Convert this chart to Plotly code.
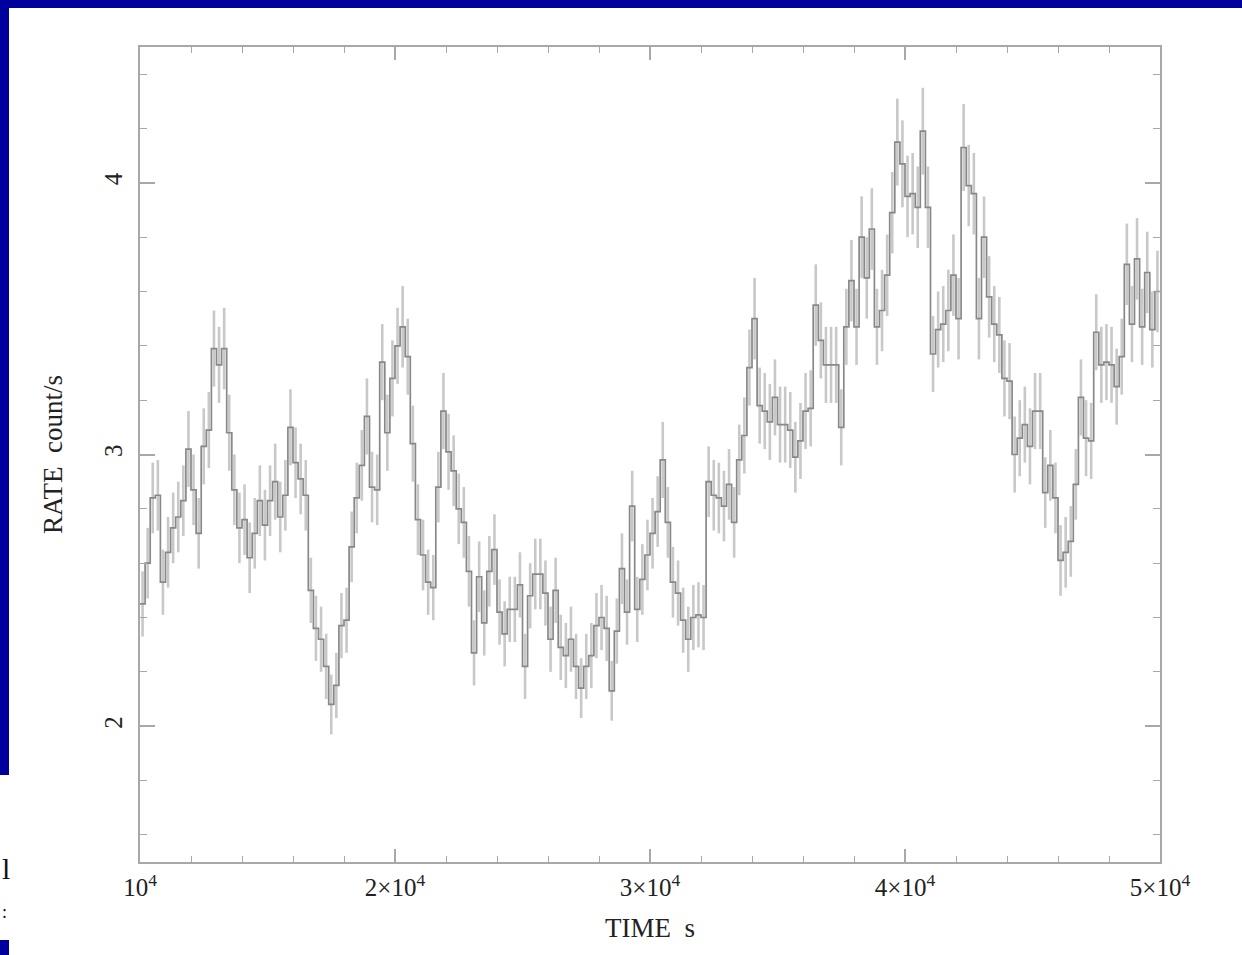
import plotly.graph_objects as go

# ---- data -------------------------------------------------------------
T_START = 10000.0      # s
BIN = 200.0            # s

RATE = [
    2.45, 2.60, 2.84, 2.85, 2.53, 2.64, 2.73, 2.77, 2.83, 3.02,
    2.87, 2.71, 3.03, 3.09, 3.39, 3.33, 3.39, 3.08, 2.87, 2.73,
    2.76, 2.62, 2.71, 2.83, 2.74, 2.83, 2.90, 2.77, 2.85, 3.10,
    2.97, 2.91, 2.85, 2.50, 2.36, 2.32, 2.22, 2.08, 2.15, 2.37,
    2.39, 2.66, 2.84, 2.96, 3.14, 2.88, 2.87, 3.34, 3.08, 3.28,
    3.40, 3.47, 3.36, 3.04, 2.76, 2.63, 2.53, 2.51, 2.88, 3.16,
    3.01, 2.94, 2.80, 2.75, 2.57, 2.27, 2.55, 2.38, 2.57, 2.65,
    2.42, 2.34, 2.43, 2.43, 2.52, 2.22, 2.48, 2.56, 2.56, 2.49,
    2.32, 2.50, 2.29, 2.26, 2.32, 2.22, 2.14, 2.22, 2.26, 2.37,
    2.40, 2.36, 2.13, 2.35, 2.58, 2.42, 2.81, 2.43, 2.54, 2.63,
    2.71, 2.79, 2.98, 2.75, 2.53, 2.49, 2.39, 2.32, 2.40, 2.41,
    2.40, 2.90, 2.85, 2.84, 2.81, 2.89, 2.75, 2.98, 3.07, 3.32,
    3.50, 3.18, 3.16, 3.12, 3.21, 3.11, 3.11, 3.09, 2.99, 3.05,
    3.16, 3.17, 3.55, 3.42, 3.33, 3.33, 3.33, 3.10, 3.47, 3.64,
    3.47, 3.80, 3.65, 3.83, 3.47, 3.53, 3.66, 3.89, 4.15, 4.07,
    3.95, 3.96, 3.91, 4.19, 3.91, 3.37, 3.46, 3.48, 3.53, 3.66,
    3.50, 4.13, 3.99, 3.96, 3.50, 3.80, 3.58, 3.48, 3.44, 3.28,
    3.27, 3.00, 3.06, 3.11, 3.03, 3.16, 3.16, 2.86, 2.96, 2.84,
    2.61, 2.64, 2.68, 2.89, 3.21, 3.06, 3.05, 3.45, 3.33, 3.34,
    3.33, 3.25, 3.36, 3.70, 3.48, 3.72, 3.47, 3.67, 3.46, 3.60,
]

RATE_ERR = [
    0.12, 0.13, 0.13, 0.13, 0.12, 0.13, 0.13, 0.13, 0.13, 0.14,
    0.13, 0.13, 0.14, 0.14, 0.14, 0.14, 0.15, 0.14, 0.13, 0.13,
    0.13, 0.13, 0.13, 0.13, 0.13, 0.13, 0.14, 0.13, 0.13, 0.14,
    0.13, 0.13, 0.13, 0.12, 0.12, 0.12, 0.12, 0.11, 0.12, 0.12,
    0.12, 0.13, 0.13, 0.13, 0.14, 0.13, 0.13, 0.14, 0.14, 0.14,
    0.14, 0.15, 0.14, 0.14, 0.13, 0.13, 0.12, 0.12, 0.13, 0.14,
    0.14, 0.13, 0.13, 0.13, 0.13, 0.12, 0.13, 0.12, 0.13, 0.13,
    0.12, 0.12, 0.12, 0.12, 0.12, 0.12, 0.12, 0.13, 0.13, 0.12,
    0.12, 0.12, 0.12, 0.12, 0.12, 0.12, 0.11, 0.12, 0.12, 0.12,
    0.12, 0.12, 0.11, 0.12, 0.13, 0.12, 0.13, 0.12, 0.13, 0.13,
    0.13, 0.13, 0.14, 0.13, 0.13, 0.12, 0.12, 0.12, 0.12, 0.12,
    0.12, 0.13, 0.13, 0.13, 0.13, 0.13, 0.13, 0.13, 0.14, 0.14,
    0.15, 0.14, 0.14, 0.14, 0.14, 0.14, 0.14, 0.14, 0.13, 0.14,
    0.14, 0.14, 0.15, 0.14, 0.14, 0.14, 0.14, 0.14, 0.14, 0.15,
    0.14, 0.15, 0.15, 0.15, 0.14, 0.15, 0.15, 0.15, 0.16, 0.16,
    0.15, 0.15, 0.15, 0.16, 0.15, 0.14, 0.14, 0.14, 0.15, 0.15,
    0.15, 0.16, 0.15, 0.15, 0.15, 0.15, 0.15, 0.14, 0.14, 0.14,
    0.14, 0.14, 0.14, 0.14, 0.14, 0.14, 0.14, 0.13, 0.13, 0.13,
    0.13, 0.13, 0.13, 0.13, 0.14, 0.14, 0.14, 0.14, 0.14, 0.14,
    0.14, 0.14, 0.14, 0.15, 0.14, 0.15, 0.14, 0.15, 0.14, 0.15,
]

X_TICKVALS = [10000, 20000, 30000, 40000, 50000]
X_TICKTEXT = ["10<sup>4</sup>", "2×10<sup>4</sup>", "3×10<sup>4</sup>",
              "4×10<sup>4</sup>", "5×10<sup>4</sup>"]
Y_TICKVALS = [2, 3, 4]
Y_TICKTEXT = ["2", "3", "4"]

# ---- derived ----------------------------------------------------------
N = len(RATE)
time_c = [T_START + BIN * (i + 0.5) for i in range(N)]
# step outline: extend to bin edges at both ends
step_x = [T_START] + time_c + [T_START + BIN * N]
step_y = [RATE[0]] + RATE + [RATE[-1]]

SERIF = "Liberation Serif, Times New Roman, serif"
AXIS_COL = "#a8a8a8"
TEXT_COL = "#222222"

fig = go.Figure()

fig.add_trace(go.Scatter(
    x=time_c, y=RATE, mode="markers",
    marker=dict(size=1, color="rgba(0,0,0,0)"),
    error_y=dict(type="data", array=RATE_ERR, visible=True,
                 color="#c8c8c8", thickness=2.6, width=0),
    hoverinfo="skip", showlegend=False,
))

fig.add_trace(go.Scatter(
    x=step_x, y=step_y, mode="lines",
    line=dict(shape="hvh", color="#888888", width=1.7),
    showlegend=False,
))

fig.update_layout(
    width=1242, height=955,
    margin=dict(l=140, r=82, t=47, b=93, pad=0),
    paper_bgcolor="white", plot_bgcolor="white",
    showlegend=False,
    font=dict(family=SERIF, color=TEXT_COL, size=24),
)

fig.update_xaxes(
    range=[10000, 50000],
    tickvals=X_TICKVALS, ticktext=X_TICKTEXT,
    ticks="inside", ticklen=13, tickwidth=1.5, tickcolor=AXIS_COL,
    minor=dict(dtick=2000, ticks="inside", ticklen=6, tickwidth=1.2,
               tickcolor=AXIS_COL, showgrid=False),
    showline=True, linecolor=AXIS_COL, linewidth=2, mirror="ticks",
    showgrid=False, zeroline=False,
    tickfont=dict(family=SERIF, size=25, color=TEXT_COL),
    ticklabelstandoff=2,
    title=dict(text="TIME\u00a0\u00a0s", font=dict(family=SERIF, size=27, color=TEXT_COL),
               standoff=18),
)

fig.update_yaxes(
    range=[1.5, 4.5],
    tickvals=Y_TICKVALS, ticktext=Y_TICKTEXT, tickangle=-90,
    ticks="inside", ticklen=15, tickwidth=1.5, tickcolor=AXIS_COL,
    minor=dict(dtick=0.2, ticks="inside", ticklen=7, tickwidth=1.2,
               tickcolor=AXIS_COL, showgrid=False),
    showline=True, linecolor=AXIS_COL, linewidth=2, mirror="ticks",
    showgrid=False, zeroline=False,
    tickfont=dict(family=SERIF, size=25, color=TEXT_COL),
    ticklabelstandoff=6,
    title=dict(text="RATE\u00a0\u00a0count/s", font=dict(family=SERIF, size=27, color=TEXT_COL),
               standoff=30),
)

# ---- slide frame (blue border fragments) ------------------------------
def px_x(p):
    return (p - 140) / 1020.0

def px_y(p):
    return (862 - p) / 815.0

BLUE = "#00009c"
frame = [
    (0, 0, 1242, 8),
    (0, 0, 9, 775),
    (0, 940, 9, 955),
]
for x0, y0, x1, y1 in frame:
    fig.add_shape(type="rect", xref="paper", yref="paper",
                  x0=px_x(x0), x1=px_x(x1), y0=px_y(y1), y1=px_y(y0),
                  fillcolor=BLUE, line=dict(width=0), layer="above")

fig.add_annotation(xref="paper", yref="paper", x=px_x(0), y=px_y(868),
                   xanchor="left", yanchor="middle", showarrow=False,
                   text="l", font=dict(family=SERIF, size=30, color="#111111"))
fig.add_annotation(xref="paper", yref="paper", x=px_x(0), y=px_y(912),
                   xanchor="left", yanchor="middle", showarrow=False,
                   text=":", font=dict(family=SERIF, size=18, color="#111111"))

fig.write_html("out.html",
               config={"displayModeBar": False},
               post_script="document.body.style.margin='0';document.body.style.overflow='hidden';")
